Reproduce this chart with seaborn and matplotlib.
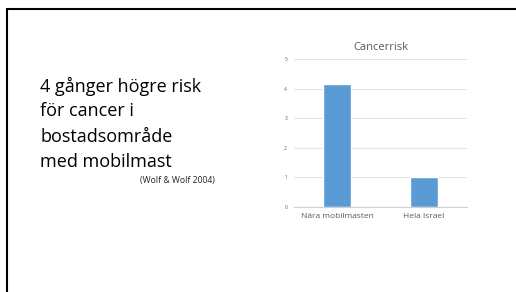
import matplotlib
matplotlib.use('Agg')
import matplotlib.pyplot as plt
import seaborn as sns
import pandas as pd
from matplotlib.lines import Line2D

# Data
categories = ['Nära mobilmasten', 'Hela Israel']
risk = [4.15, 1.0]
yticks = [0, 1, 2, 3, 4, 5]

df = pd.DataFrame({'plats': categories, 'risk': risk})

sns.set_style('white')
plt.rcParams['font.family'] = ['Open Sans', 'DejaVu Sans']

W, H = 516, 292
fig = plt.figure(figsize=(W / 100, H / 100), dpi=100)

# slide border (top and left)
fig.add_artist(Line2D([6.5 / W, 1], [1 - 8.5 / H, 1 - 8.5 / H], color='black', lw=1.5))
fig.add_artist(Line2D([6.5 / W, 6.5 / W], [0, 1 - 8.5 / H], color='black', lw=1.5))

# left text block
lines = ['4 gånger högre risk', 'för cancer i', 'bostadsområde', 'med mobilmast']
for i, t in enumerate(lines):
    fig.text(40 / W, 1 - (86 + 25.5 * i) / H, t, fontsize=13, va='center', ha='left', color='black')
fig.text(215 / W, 1 - 181 / H, '(Wolf & Wolf 2004)', fontsize=6.2, va='center', ha='right', color='#222222')

# chart
ax = fig.add_axes([294 / W, 1 - 207 / H, 173 / W, (207 - 59.3) / H])
sns.barplot(data=df, x='plats', y='risk', color='#5b9bd5', width=0.32, saturation=1, ax=ax)
ax.set_ylim(0, 5)
ax.set_yticks(yticks)
ax.set_xlim(-0.5, 1.5)
ax.yaxis.grid(True, color='#e3e3e3', lw=0.8)
ax.set_axisbelow(True)
for s in ['top', 'right', 'left']:
    ax.spines[s].set_visible(False)
ax.spines['bottom'].set_color('#d0d0d0')
ax.spines['bottom'].set_linewidth(0.8)
ax.tick_params(axis='y', length=0, labelsize=3.5, labelcolor='#595959', pad=5)
ax.tick_params(axis='x', length=0, labelsize=6, labelcolor='#595959', pad=4)
ax.set_xlabel('')
ax.set_ylabel('')
ax.set_title('Cancerrisk', fontsize=8, color='#595959', pad=7)

fig.savefig('out.png', dpi=100, facecolor='white')
